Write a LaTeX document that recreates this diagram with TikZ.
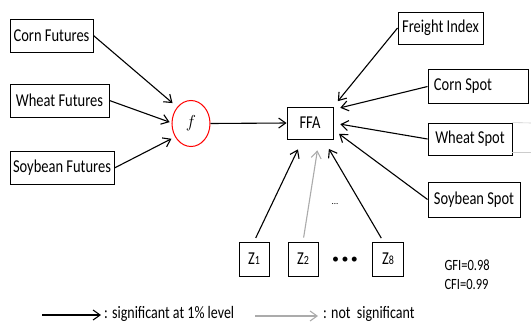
\documentclass[tikz,border=0pt]{standalone}
\usepackage{fontspec}
\setmainfont{Carlito}
\usepackage{graphicx}
\usetikzlibrary{arrows.meta,shapes.geometric}
\newcommand{\tallt}[1]{\scalebox{1}[1.25]{#1}}
\newcommand{\zsub}[1]{\tallt{Z{\fontsize{10}{11}\selectfont #1}}}

\begin{document}
\begin{tikzpicture}[x=1pt,y=-1pt,
    box/.style={draw,line width=0.9pt,inner sep=0pt,minimum height=33pt,
        font=\fontsize{14.5}{16}\selectfont},
    sig/.style={line width=1.1pt,-{Straight Barb[length=7pt,width=10pt]}},
    nsig/.style={sig,color=black!33}]
    \useasboundingbox (0,0) rectangle (531,322);

    %%the futures on the left
    \node[box,minimum width=83pt] (cornfut) at (51.5,35.5){\tallt{Corn Futures}};
    \node[box,minimum width=99pt] (wheatfut) at (59.5,100.5){\tallt{Wheat Futures}};
    \node[box,minimum width=104pt] (soyfut) at (62,168){\tallt{Soybean Futures}};
    \node[draw=red,line width=1pt,ellipse,minimum width=38pt,minimum height=46pt,
        inner sep=0pt] (f) at (191,123.5){\fontsize{17}{18}\selectfont $f$};

    %%the FFA and the spots
    \node[box,minimum width=46pt,minimum height=32pt] (ffa) at (310,123){\tallt{FFA}};
    \node[box,minimum width=85pt,minimum height=32pt] (freight) at (440.5,28){\tallt{Freight Index}};
    \node[box,minimum width=100pt,minimum height=34pt] (cornspot) at (478,86.5){\tallt{Corn Spot}\hspace*{30pt}};
    \node[box,minimum width=84pt,minimum height=32pt] (wheatspot) at (470,139){\tallt{Wheat Spot}};
    \node[box,minimum width=92pt,minimum height=35pt] (soyspot) at (474,199.5){\tallt{Soybean Spot}};
    \draw[black!20,line width=0.6pt] (wheatspot.north east) -- (531,123);
    \draw[black!20,line width=0.6pt] (512,152) -- (531,152);

    %%the Z boxes
    \node[box,minimum width=30pt,minimum height=34pt] (z1) at (254,259){\zsub{1}};
    \node[box,minimum width=30pt,minimum height=34pt] (z2) at (303,259){\zsub{2}};
    \node[font=\fontsize{14}{16}\selectfont] (zdots) at (345,260){\textbullet\,\textbullet\,\textbullet};
    \node[box,minimum width=31pt,minimum height=34pt] (z8) at (388,259){\zsub{8}};
    \node[font=\fontsize{9}{10}\selectfont] (smalldots) at (335,204){...};

    %%fit indices
    \node[font=\fontsize{12.5}{14}\selectfont,anchor=west] (gfi) at (441,265){\tallt{GFI=0.98}};
    \node[font=\fontsize{12.5}{14}\selectfont,anchor=west] (cfi) at (441,284){\tallt{CFI=0.99}};

    %%the arrows
    \draw[sig,shorten >=6pt] (cornfut.east) -- (f.130);
    \draw[sig,shorten >=2pt] (wheatfut.east) -- (f.178);
    \draw[sig,shorten >=4pt] (soyfut.east) -- (f.220);
    \draw[sig] (f.east) -- (ffa.west);
    \draw[sig,shorten >=7pt] (freight.west) -- (ffa.north east);
    \draw[sig,shorten >=7pt] (cornspot.west) -- (ffa.30);
    \draw[sig,shorten >=7pt] (wheatspot.west) -- (ffa.east);
    \draw[sig,shorten >=7pt] (soyspot.west) -- (ffa.-16);
    \draw[sig,shorten <=4pt,shorten >=11pt] (z1.north) -- (ffa.246);
    \draw[nsig,shorten <=4pt,shorten >=11pt] (z2.north) -- (ffa.-61);
    \draw[sig,shorten <=4pt,shorten >=11pt] (z8.105) -- (ffa.-51);

    %%the legend
    \coordinate (sigA) at (42,315);
    \coordinate (sigB) at (101,315);
    \coordinate (nsigA) at (255,316);
    \coordinate (nsigB) at (318,316);
    \draw[sig] (sigA) -- (sigB);
    \node[font=\fontsize{14}{16}\selectfont,anchor=west,inner sep=0pt] (sigtext) at (104,314){\tallt{: significant at 1\% level}};
    \draw[nsig] (nsigA) -- (nsigB);
    \node[font=\fontsize{14}{16}\selectfont,anchor=west,inner sep=0pt] (nsigtext) at (323,314){\tallt{: not~ significant}};
\end{tikzpicture}
\end{document}
